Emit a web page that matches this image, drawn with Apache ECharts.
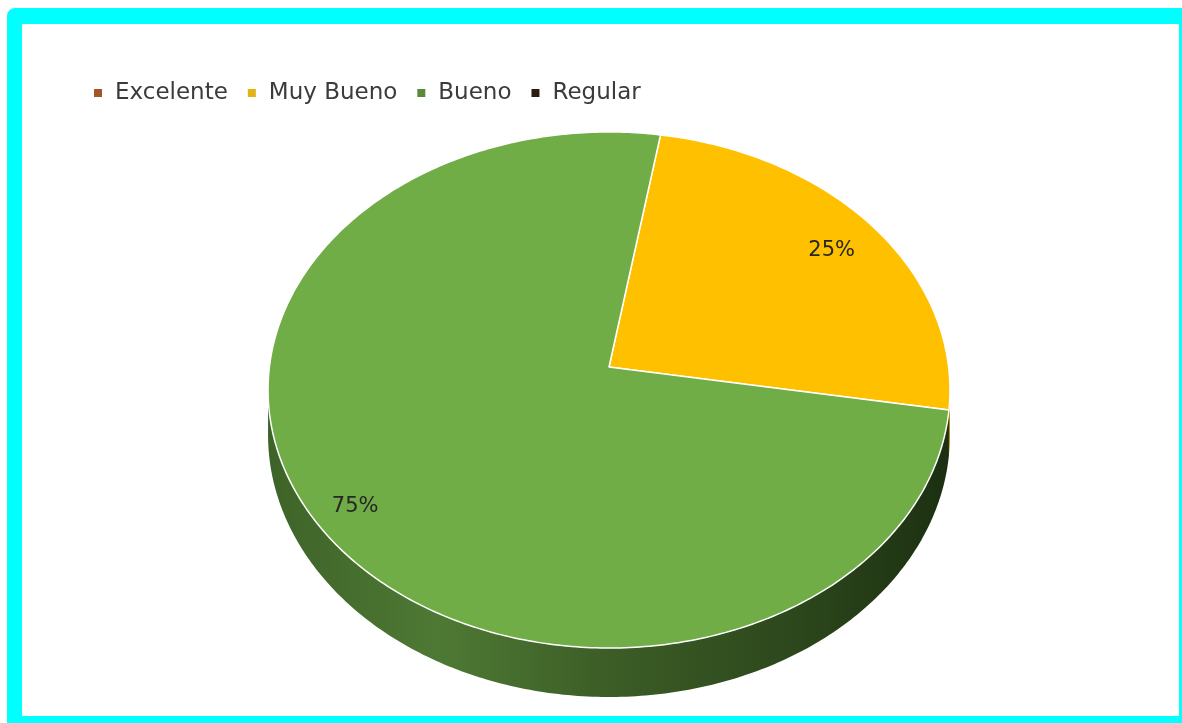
<!DOCTYPE html>
<html>
<head>
<meta charset="utf-8">
<script src="https://cdn.jsdelivr.net/npm/echarts@6/dist/echarts.min.js"></script>
<style>
  html, body { margin: 0; padding: 0; background: #ffffff; }
  #chart { position: absolute; left: 0; top: 0; width: 1182px; height: 723px; }
  #frame {
    position: absolute; left: 7px; top: 8px; width: 1175px; height: 715px;
    box-sizing: border-box; border-style: solid; border-color: #00FFFF;
    border-width: 16px 3px 7px 15px; border-top-left-radius: 8px;
    pointer-events: none;
  }
</style>
</head>
<body>
<div id="chart"></div>
<div id="frame"></div>
<script>
// Survey ratings
const categories = ['Excelente', 'Muy Bueno', 'Bueno', 'Regular'];
const values = [0, 25, 75, 0];

// Slice colours (top face), legend swatches, and side-wall tones
const faceColors = ['#C55A11', '#FFC000', '#70AD47', '#2E1A10'];
const legendColors = ['#A4532A', '#E2B414', '#5A8A3E', '#2E1A10'];
const wallColors = ['#7A3A0B', '#B38600', null, '#1A0E08'];

// Tilted-disc projection parameters
const CX = 609, CY = 367;      // projected disc centre
const RX = 339.6, RY = 256;    // horizontal / vertical radii
const K = 0.0891;              // perspective: near side appears larger
const DEPTH = 44.6;            // thickness of the disc
const START = 9.5 * Math.PI / 180;  // first slice angle, clockwise from 12 o'clock
const LABEL_R = 0.86;
const LABEL_DX = -5, LABEL_DY = 6;

const total = values.reduce((a, b) => a + b, 0);
const cum = values.map((_, i) => values.slice(0, i).reduce((a, b) => a + b, 0));

function proj(phi, drop, r) {
  r = r == null ? 1 : r;
  const u = r * Math.sin(phi), v = -r * Math.cos(phi);
  const s = 1 / (1 - K * v);
  return [CX + RX * u * s, CY + RY * v * s + drop * s];
}
function arc(a0, a1, drop) {
  const n = Math.max(2, Math.ceil(Math.abs(a1 - a0) / (Math.PI / 240)));
  const pts = [];
  for (let j = 0; j <= n; j++) pts.push(proj(a0 + (a1 - a0) * j / n, drop));
  return pts;
}

// visible front wall lies between the two silhouette points
const VIS0 = Math.acos(-K), VIS1 = 2 * Math.PI - Math.acos(-K);

const wallGradient = {
  type: 'linear', global: true, x: CX - RX, y: 0, x2: CX + RX, y2: 0,
  colorStops: [
    { offset: 0, color: '#3E6328' },
    { offset: 0.25, color: '#4E7934' },
    { offset: 0.5, color: '#3C5D26' },
    { offset: 0.78, color: '#2C471C' },
    { offset: 1, color: '#1C3011' }
  ]
};

function makeRender(i) {
  return function (params, api) {
    const v = api.value(0);
    const children = [];
    if (!(v > 0)) return { type: 'group', children };
    const a0 = START + cum[i] / total * 2 * Math.PI;
    const a1 = a0 + v / total * 2 * Math.PI;

    [0, 2 * Math.PI].forEach(shift => {
      const lo = Math.max(a0, VIS0 + shift), hi = Math.min(a1, VIS1 + shift);
      if (hi > lo) {
        const pts = arc(lo, hi, 0).concat(arc(hi, lo, DEPTH));
        children.push({
          type: 'polygon', z2: 1,
          shape: { points: pts },
          style: { fill: wallColors[i] || wallGradient, stroke: null }
        });
      }
    });

    children.push({
      type: 'polygon', z2: 10,
      shape: { points: [[CX, CY]].concat(arc(a0, a1, 0)) },
      style: { fill: faceColors[i], stroke: '#ffffff', lineWidth: 1.5, lineJoin: 'round' }
    });

    const mid = (a0 + a1) / 2;
    const p = proj(mid, 0, LABEL_R);
    children.push({
      type: 'text', z2: 20,
      style: {
        text: Math.round(v / total * 100) + '%',
        x: p[0] + LABEL_DX, y: p[1] + LABEL_DY,
        textAlign: 'center', textVerticalAlign: 'middle',
        align: 'center', verticalAlign: 'middle',
        fontFamily: 'DejaVu Sans', fontSize: 21, fill: '#262626'
      }
    });
    return { type: 'group', children };
  };
}

const chart = echarts.init(document.getElementById('chart'), null, { renderer: 'canvas' });
chart.setOption({
  animation: false,
  backgroundColor: '#ffffff',
  legend: {
    left: 89, top: 76,
    icon: 'rect', itemWidth: 8, itemHeight: 8, itemGap: 20,
    selectedMode: false,
    textStyle: { fontFamily: 'DejaVu Sans', fontSize: 23, color: '#3B3B3B', padding: [0, 0, 0, 8], lineHeight: 24 },
    data: categories.map((c, i) => ({ name: c, itemStyle: { color: legendColors[i] } }))
  },
  series: categories.map((c, i) => ({
    type: 'custom',
    name: c,
    coordinateSystem: 'none',
    itemStyle: { color: faceColors[i] },
    renderItem: makeRender(i),
    data: [[values[i]]]
  }))
});
</script>
</body>
</html>
